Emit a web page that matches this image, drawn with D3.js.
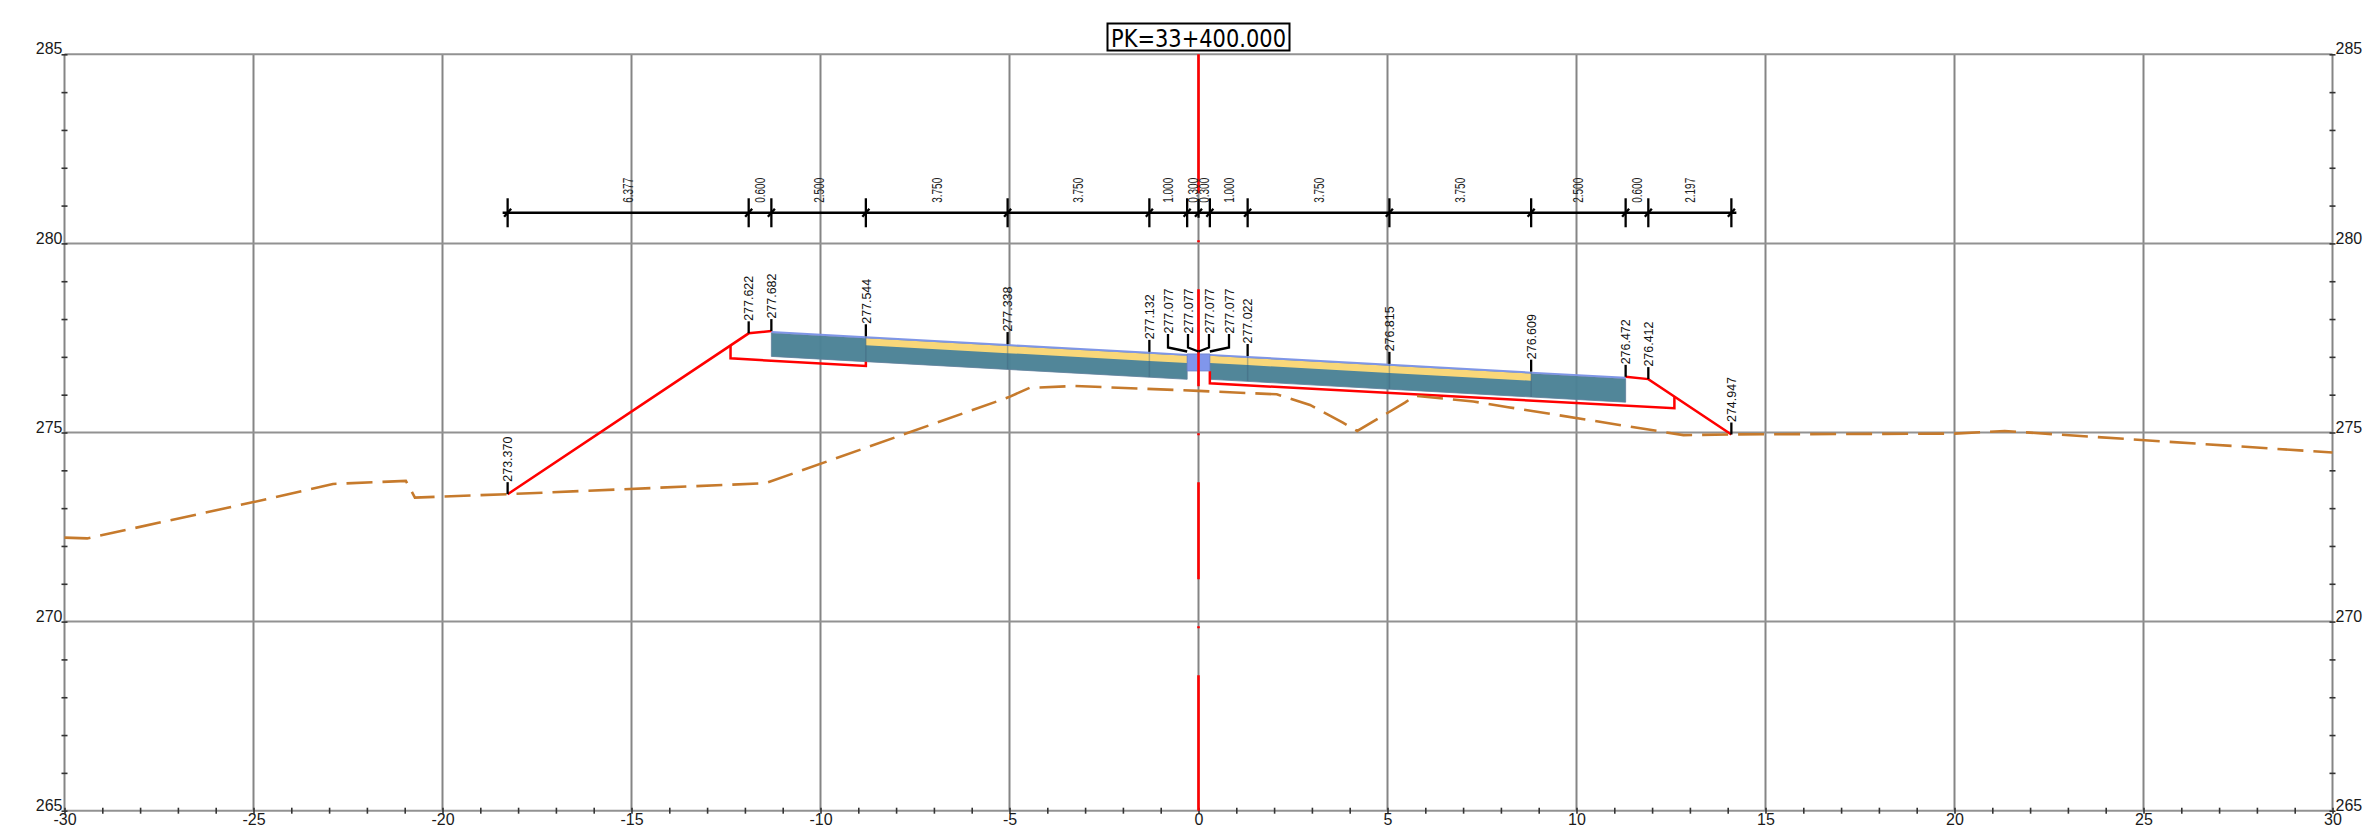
<!DOCTYPE html>
<html>
<head>
<meta charset="utf-8">
<title>PK=33+400.000</title>
<script src="https://cdn.jsdelivr.net/npm/d3@7"></script>
<style>
  html, body { margin: 0; background: #fff; }
  svg { display: block; }
  text { font-family: "Liberation Sans", Arial, sans-serif; }
</style>
</head>
<body>
<script>
// section title
const title = "PK=33+400.000";

// station labels: offset from axis and elevation
const labelOffsets = [-18.277, -11.9, -11.3, -8.8, -5.05, -1.3, -0.3, 0, 0, 0.3, 1.3, 5.05, 8.8, 11.3, 11.9, 14.097];
const labelElevations = [273.370, 277.622, 277.682, 277.544, 277.338, 277.132, 277.077, 277.077, 277.077, 277.077, 277.022, 276.815, 276.609, 276.472, 276.412, 274.947];

// dimension line
const dimStations = [-18.277, -11.9, -11.3, -8.8, -5.05, -1.3, -0.3, 0, 0.3, 1.3, 5.05, 8.8, 11.3, 11.9, 14.097];
const dimLabels = ["6.377", "0.600", "2.500", "3.750", "3.750", "1.000", "0.300", "0.300", "1.000", "3.750", "3.750", "2.500", "0.600", "2.197"];
const dimElevation = 280.81;

// natural ground
const groundX = [-30, -29.4, -25, -22.9, -20.97, -20.73, -18.27, -11.45, -5.03, -4.47, -3.29, 0, 2.07, 2.95, 3.82, 4.2, 5.46, 5.73, 7.27, 8.19, 12.83, 14.1, 20, 21.33, 30];
const groundY = [272.22, 272.2, 273.16, 273.64, 273.72, 273.28, 273.37, 273.66, 275.93, 276.18, 276.23, 276.1, 276.01, 275.73, 275.26, 275.04, 275.79, 275.97, 275.82, 275.67, 274.93, 274.95, 274.97, 275.04, 274.47];

// embankment outline (red)
const slopeLeftX = [-18.277, -11.9, -11.3];
const slopeLeftY = [273.370, 277.622, 277.682];
const slopeRightX = [11.3, 11.9, 14.097];
const slopeRightY = [276.472, 276.412, 274.947];
const subgradeLeftX = [-8.8, -8.8, -12.38, -12.38];
const subgradeLeftY = [276.87, 276.76, 276.96, 277.30];
const subgradeRightX = [0.3, 0.3, 12.59, 12.59];
const subgradeRightY = [276.62, 276.30, 275.64, 275.95];

// pavement layers, depth below finished surface
const leftX = [-11.3, -8.8, -5.05, -1.3, -0.3];
const leftTop = [277.682, 277.544, 277.338, 277.132, 277.077];
const rightX = [0.3, 1.3, 5.05, 8.8, 11.3];
const rightTop = [277.077, 277.022, 276.815, 276.609, 276.472];
const wearDepth = 0.05;
const yellowDepth = 0.24;
const baseDepth = 0.67;
const medianX = [-0.3, 0.3];
const medianDepth = 0.45;

const yTicks = d3.range(265, 286);
const xTicks = d3.range(-30, 31);

const width = 2372, height = 828;
const x = d3.scaleLinear().domain([-30, 30]).range([64.5, 2332.5]);
const y = d3.scaleLinear().domain([265, 285]).range([810.7, 54.3]);

const svg = d3.select("body").append("svg")
    .attr("width", width)
    .attr("height", height)
    .style("background", "#fff");

// grid
const grid = svg.append("g").attr("stroke", "#858585").attr("stroke-width", 2);
grid.selectAll(".gv").data(xTicks.filter(d => d % 5 === 0)).enter().append("line")
    .attr("x1", d => x(d)).attr("x2", d => x(d))
    .attr("y1", y(285)).attr("y2", y(265));
grid.selectAll(".gh").data(yTicks.filter(d => d % 5 === 0)).enter().append("line")
    .attr("x1", x(-30)).attr("x2", x(30))
    .attr("y1", d => y(d)).attr("y2", d => y(d))
    .attr("stroke", "#929292");

// axes, ticks only
function styleAxis(g) {
  g.select(".domain").remove();
  g.selectAll("line").attr("stroke", "#333").attr("stroke-width", 1.6);
  g.selectAll("text")
      .attr("fill", "#1a1a1a")
      .style("font-size", "16px")
      .style("font-family", '"Liberation Sans", Arial, sans-serif');
}
const fmt = d => d % 5 === 0 ? d : "";

svg.append("g")
    .attr("transform", "translate(" + x(-30) + ",0)")
    .call(d3.axisLeft(y).tickValues(yTicks).tickFormat(fmt).tickSize(3).tickPadding(-1))
    .call(styleAxis)
    .call(g => g.selectAll("line").attr("x2", 3).attr("x1", -3))
    .call(g => g.selectAll("text").attr("dy", "-0.02em"));

svg.append("g")
    .attr("transform", "translate(" + x(30) + ",0)")
    .call(d3.axisRight(y).tickValues(yTicks).tickFormat(fmt).tickSize(3).tickPadding(0))
    .call(styleAxis)
    .call(g => g.selectAll("line").attr("x2", 3).attr("x1", -3))
    .call(g => g.selectAll("text").attr("dy", "-0.02em"));

svg.append("g")
    .attr("transform", "translate(0," + y(265) + ")")
    .call(d3.axisBottom(x).tickValues(xTicks).tickFormat(fmt).tickSize(3).tickPadding(0))
    .call(styleAxis)
    .call(g => g.selectAll("line").attr("y2", 3).attr("y1", -3))
    .call(g => g.selectAll("text").attr("dy", "0.68em"));

// pavement layers
const poly = (xs, top, bottom) => {
  const pts = xs.map((d, i) => [d, top[i]]).concat(xs.map((d, i) => [d, bottom[i]]).reverse());
  return d3.line().x(d => x(d[0])).y(d => y(d[1]))(pts) + "Z";
};
const below = (arr, depth) => arr.map(d => d - depth);

const layers = svg.append("g").attr("fill-opacity", 0.97);
[[leftX, leftTop], [rightX, rightTop]].forEach(side => {
  const xs = side[0], top = side[1];
  layers.append("path")
      .attr("d", poly(xs, below(top, wearDepth), below(top, baseDepth)))
      .attr("fill", "#4b8296")
      .attr("stroke", "#5f7f9c").attr("stroke-width", 0.8);
  // yellow layer stops at the outer lane edge
  const yx = xs[0] < 0 ? xs.slice(1) : xs.slice(0, 4);
  const yt = xs[0] < 0 ? top.slice(1) : top.slice(0, 4);
  layers.append("path")
      .attr("d", poly(yx, below(yt, wearDepth), below(yt, yellowDepth)))
      .attr("fill", "#ffda78");
  layers.append("path")
      .attr("d", poly(xs, top, below(top, wearDepth)))
      .attr("fill", "#7b93e6");
});
layers.append("path")
    .attr("d", poly(medianX, [277.077, 277.077], [277.077 - medianDepth, 277.077 - medianDepth]))
    .attr("fill", "#7c93ea")
    .attr("stroke", "#6a7fc9").attr("stroke-width", 0.8);

// faint layer joints at the stations
svg.append("g").selectAll("line")
    .data(leftX.slice(1, 4).concat(rightX.slice(1, 4)))
    .enter().append("line")
    .attr("x1", d => x(d)).attr("x2", d => x(d))
    .attr("y1", d => y(elevAt(d)))
    .attr("y2", d => y(elevAt(d) - baseDepth))
    .attr("stroke", "#3d5f78").attr("stroke-opacity", 0.4).attr("stroke-width", 1.5);
function elevAt(s) {
  return labelElevations[labelOffsets.indexOf(s)];
}

// centre line
svg.append("line")
    .attr("x1", x(0)).attr("x2", x(0))
    .attr("y1", y(285)).attr("y2", y(265))
    .attr("stroke", "#f00").attr("stroke-width", 2.6)
    .attr("stroke-dasharray", "139 47 2 47 97 47 2 47 97 47 2 47 140");

// red outline
const lineXY = d3.line().x(d => x(d[0])).y(d => y(d[1]));
const zip = (a, b) => a.map((d, i) => [d, b[i]]);
const red = svg.append("g").attr("fill", "none").attr("stroke", "#f00").attr("stroke-width", 2.5);
red.append("path").attr("d", lineXY(zip(slopeLeftX, slopeLeftY)));
red.append("path").attr("d", lineXY(zip(slopeRightX, slopeRightY)));
red.append("path").attr("d", lineXY(zip(subgradeLeftX, subgradeLeftY)));
red.append("path").attr("d", lineXY(zip(subgradeRightX, subgradeRightY)));

// natural ground
svg.append("path")
    .attr("d", lineXY(zip(groundX, groundY)))
    .attr("fill", "none")
    .attr("stroke", "#c67a2c")
    .attr("stroke-width", 2.6)
    .attr("stroke-dasharray", "26 10");

// dimension line
const dim = svg.append("g").attr("stroke", "#000").attr("stroke-width", 2.3);
dim.append("line")
    .attr("x1", x(dimStations[0]) - 5).attr("x2", x(dimStations[dimStations.length - 1]) + 5)
    .attr("y1", y(dimElevation)).attr("y2", y(dimElevation));
dim.selectAll(".tick").data(dimStations).enter().append("line")
    .attr("x1", d => x(d)).attr("x2", d => x(d))
    .attr("y1", d => y(dimElevation) + (d === 0 ? -14 : -14.5))
    .attr("y2", d => y(dimElevation) + (d === 0 ? 5 : 14.5));
dim.selectAll(".slash").data(dimStations).enter().append("line")
    .attr("x1", d => x(d) - 3.5).attr("x2", d => x(d) + 3.5)
    .attr("y1", y(dimElevation) + 4).attr("y2", y(dimElevation) - 4);

// dimension texts
svg.append("g").selectAll("text")
    .data(dimLabels).enter().append("text")
    .attr("transform", (d, i) => {
      const mid = (dimStations[i] + dimStations[i + 1]) / 2;
      return "translate(" + (x(mid) + 5) + "," + (y(dimElevation) - 10) + ") rotate(-90)";
    })
    .attr("textLength", 25)
    .attr("lengthAdjust", "spacingAndGlyphs")
    .attr("fill", "#222")
    .style("font-size", "14.5px")
    .text(d => d);

// elevation labels, the four at the median fan out on leaders
const fan = {6: -30.5, 7: -10.5, 8: 10.5, 9: 30.5};
const leader = svg.append("g").attr("fill", "none").attr("stroke", "#000").attr("stroke-width", 2.3);
const labels = svg.append("g");
labelOffsets.forEach((s, i) => {
  const px = x(s), py = y(labelElevations[i]);
  const isFan = fan[i] !== undefined;
  const lx = isFan ? x(0) + fan[i] : px;
  const ly = isFan ? 334 : py - 12;
  if (isFan) {
    leader.append("path").attr("d", d3.line()([[lx, ly], [lx, 347.5], [px, 351.5]]));
  } else {
    leader.append("line").attr("x1", px).attr("x2", px).attr("y1", py).attr("y2", ly);
  }
  labels.append("text")
      .attr("transform", "translate(" + (lx + 4.8) + "," + (ly - 0.5) + ") rotate(-90)")
      .attr("textLength", 45)
      .attr("lengthAdjust", "spacingAndGlyphs")
      .attr("fill", "#111")
      .style("font-size", "13.2px")
      .text(labelElevations[i].toFixed(3));
});

// title box
svg.append("rect")
    .attr("x", x(0) - 91)
    .attr("y", 23.5)
    .attr("width", 182)
    .attr("height", 27)
    .attr("fill", "#fff")
    .attr("stroke", "#000")
    .attr("stroke-width", 2);
svg.append("text")
    .attr("x", x(0) - 87.5)
    .attr("y", 46.5)
    .attr("textLength", 175)
    .attr("lengthAdjust", "spacingAndGlyphs")
    .attr("fill", "#000")
    .style("font-family", '"DejaVu Sans", sans-serif')
    .style("font-size", "25px")
    .text(title);
</script>
</body>
</html>
